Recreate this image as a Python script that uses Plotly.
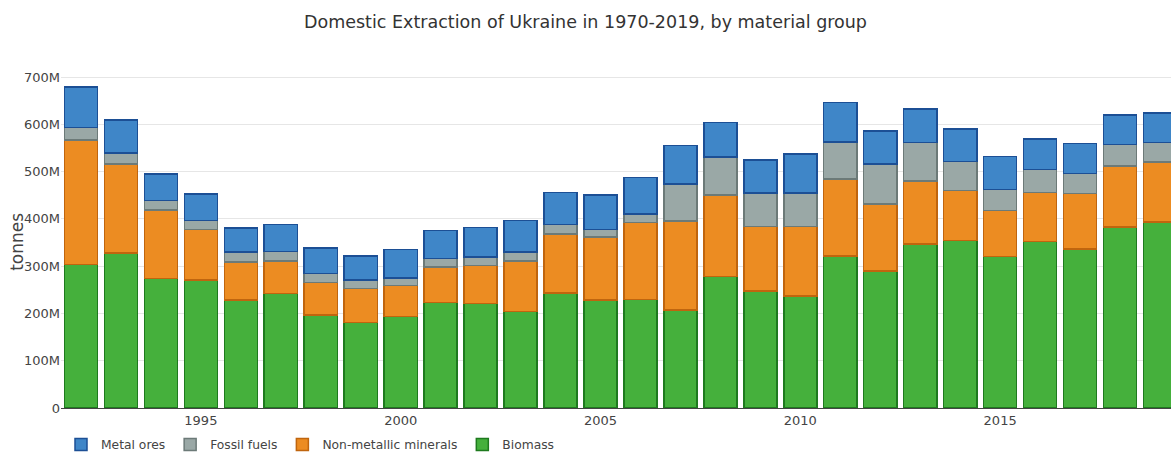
import plotly.graph_objects as go

years = list(range(1992, 2020))
biomass = [304, 328, 274, 271, 229, 242, 197, 181, 194, 223, 221, 204, 243, 228,
           230, 207, 278, 248, 237, 322, 290, 347, 354, 321, 352, 336, 383, 393]
non_metallic = [263, 188, 145, 107, 80, 69, 68, 72, 65, 75, 80, 107, 125, 134,
                162, 189, 173, 136, 147, 162, 142, 133, 106, 97, 104, 118, 129, 127]
fossil = [26, 23, 20, 19, 21, 20, 20, 18, 16, 18, 18, 19, 20, 16,
          18, 78, 80, 71, 71, 79, 84, 82, 61, 44, 49, 42, 45, 42]
metal = [86, 70, 56, 56, 51, 57, 53, 51, 60, 59, 63, 67, 68, 73,
         78, 81, 73, 70, 82, 83, 70, 71, 69, 70, 64, 64, 63, 62]

series = [
    ("Biomass", biomass, "#45b03c", "#1e7a1e"),
    ("Non-metallic minerals", non_metallic, "#ec8c22", "#c0650e"),
    ("Fossil fuels", fossil, "#9aa8a6", "#6c7a78"),
    ("Metal ores", metal, "#3f86c8", "#1c4f95"),
]

FONT = "DejaVu Sans"
fig = go.Figure()
for name, vals, fill, line in series:
    fig.add_trace(go.Bar(
        x=years, y=[v * 1e6 for v in vals], name=name,
        marker=dict(color=fill, line=dict(color=line, width=1.5)),
    ))

fig.update_layout(
    width=1171, height=453,
    barmode="stack", bargap=0.17,
    plot_bgcolor="white", paper_bgcolor="white",
    margin=dict(l=61, r=0, t=70, b=45, autoexpand=False),
    font=dict(family=FONT, size=12, color="#444"),
    title=dict(text="Domestic Extraction of Ukraine in 1970-2019, by material group",
               x=0.5, xanchor="center", y=1 - 22 / 453, yanchor="middle",
               font=dict(family=FONT, size=17.5, color="#333")),
    legend=dict(orientation="h", traceorder="reversed", x=0.0, xanchor="left",
                y=-0.108, yanchor="middle", font=dict(size=12.3, color="#444")),
    xaxis=dict(range=[1991.5, 2019.275], tickmode="linear", tick0=1995, dtick=5,
               showgrid=False, showline=True, linecolor="#444", linewidth=1,
               ticks="", tickfont=dict(size=13, color="#444"), automargin=False),
    yaxis=dict(range=[0, 715e6], dtick=100e6, tickformat="~s",
               showgrid=True, gridcolor="#e6e6e6", gridwidth=1, zeroline=False,
               tickfont=dict(size=13, color="#444"), automargin=False),
    annotations=[dict(text="tonnes", textangle=-90, xref="paper", yref="paper",
                      x=(17 - 61) / 1110, y=(408.3 - 242) / 338.2,
                      xanchor="center", yanchor="middle", showarrow=False,
                      font=dict(family=FONT, size=17, color="#444"))],
)

fig.write_html("out.html", post_script="document.body.style.margin='0';",
               config={"displayModeBar": False})
